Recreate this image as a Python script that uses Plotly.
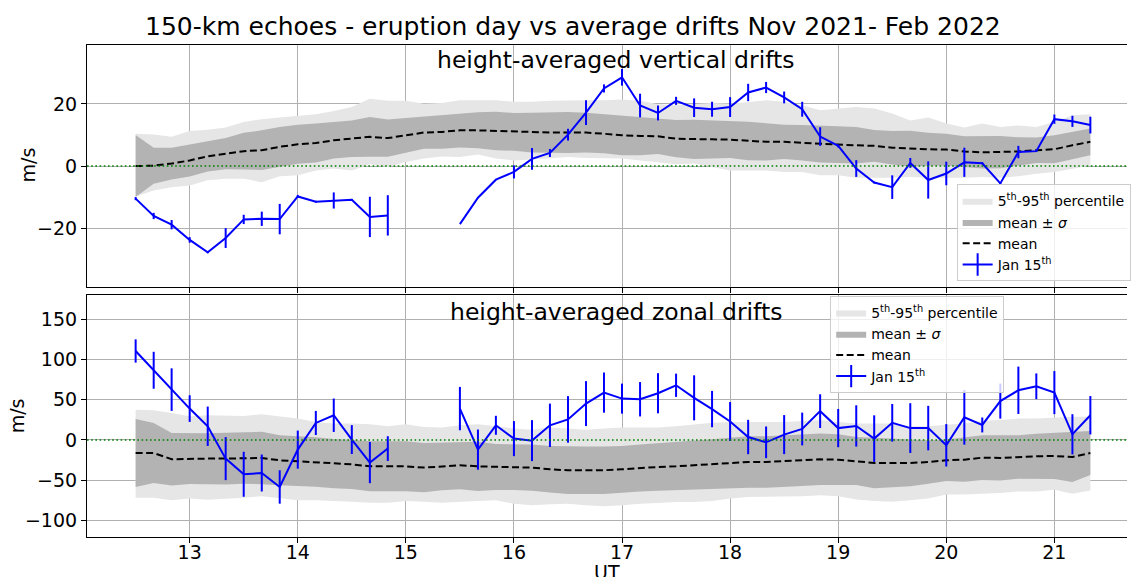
import plotly.graph_objects as go

# ---------------- data ----------------
ut = [12.5, 12.667, 12.833, 13.0, 13.167, 13.333, 13.5, 13.667, 13.833, 14.0,
      14.167, 14.333, 14.5, 14.667, 14.833, 15.0, 15.167, 15.333, 15.5, 15.667,
      15.833, 16.0, 16.167, 16.333, 16.5, 16.667, 16.833, 17.0, 17.167, 17.333,
      17.5, 17.667, 17.833, 18.0, 18.167, 18.333, 18.5, 18.667, 18.833, 19.0,
      19.167, 19.333, 19.5, 19.667, 19.833, 20.0, 20.167, 20.333, 20.5, 20.667,
      20.833, 21.0, 21.167, 21.333]

# vertical drifts (top panel)
vert_jan15 = [-10.5, -16.1, -18.9, -23.8, -27.8, -23.2, -17.2, -17.0, -17.1, -9.8,
              -11.5, -11.1, -10.9, -16.4, -15.9, None, None, None, -18.7, -10.2,
              -4.4, -1.9, 2.3, 4.2, 10.1, 17.2, 25.0, 28.6, 19.5, 17.1,
              21.0, 18.8, 18.3, 19.0, 23.7, 25.3, 22.1, 18.3, 9.5, 6.5,
              -0.8, -5.3, -6.8, 1.0, -4.5, -2.4, 1.2, 0.9, -5.6, 4.5,
              4.8, 15.1, 14.4, 13.2]
vert_err = [0.5, 1.0, 1.5, 0.9, 0.3, 3.2, 1.5, 2.3, 4.9, 0.5,
            0.3, 2.6, 0.3, 6.5, 6.5, 0, 0, 0, 0, 0,
            0, 2.1, 3.5, 1.3, 1.9, 4.0, 1.3, 2.7, 3.8, 2.4,
            1.3, 3.0, 2.4, 3.2, 2.8, 1.8, 1.9, 2.4, 3.0, 0.5,
            2.7, 0.3, 3.8, 1.6, 6.0, 3.8, 4.7, 0.3, 0.3, 2.0,
            0.3, 1.5, 1.8, 2.7]
vert_mean = [0.0, 0.1, 0.8, 1.8, 3.1, 4.0, 4.8, 5.1, 6.2, 7.0,
             7.4, 8.3, 8.8, 9.4, 9.0, 9.9, 10.8, 11.0, 11.5, 11.5,
             11.3, 11.0, 10.8, 10.8, 10.8, 10.8, 10.4, 9.9, 9.7, 9.6,
             8.8, 8.6, 8.6, 8.5, 8.1, 7.8, 7.8, 7.5, 7.0, 6.9,
             6.7, 6.5, 5.9, 5.6, 5.4, 5.3, 4.7, 4.4, 4.5, 4.7,
             5.1, 5.4, 6.7, 7.8]
vert_std = [10.0, 5.8, 5.1, 5.2, 4.9, 5.0, 5.9, 6.4, 6.4, 6.3,
            6.3, 5.9, 5.9, 6.4, 6.0, 5.6, 5.2, 5.4, 5.5, 5.8,
            6.2, 6.1, 6.4, 6.6, 6.6, 6.4, 6.3, 6.4, 6.2, 5.7,
            6.0, 6.3, 6.1, 5.9, 6.2, 6.0, 5.5, 5.7, 5.9, 5.9,
            5.9, 5.1, 5.4, 5.8, 5.3, 5.1, 4.9, 5.2, 5.2, 4.6,
            4.1, 4.5, 4.4, 4.3]
vert_p95 = [10.4, 10.2, 9.4, 11.3, 11.7, 12.4, 14.2, 15.1, 15.6, 16.1,
            16.7, 17.7, 19.0, 21.7, 21.0, 21.0, 20.1, 20.3, 21.2, 21.2,
            21.2, 20.7, 20.7, 21.0, 21.2, 21.2, 21.2, 21.4, 21.0, 19.9,
            19.6, 19.9, 20.3, 20.1, 20.7, 21.2, 20.7, 19.6, 18.0, 18.5,
            19.0, 18.5, 16.9, 14.7, 15.6, 13.7, 12.4, 13.7, 12.6, 13.1,
            12.6, 14.2, 16.4, 16.7]
vert_p5 = [-9.8, -7.9, -6.8, -6.3, -4.6, -4.1, -4.1, -5.2, -3.3, -3.0,
           -1.4, -0.8, -1.4, 0.6, -0.3, 1.3, 2.4, 3.1, 2.9, 3.7,
           2.4, 1.8, 2.1, 2.4, 2.9, 2.6, 2.4, 2.4, 1.8, 1.3,
           0.6, 0.8, -0.3, -1.4, -1.4, -1.4, -1.9, -1.9, -3.0, -3.0,
           -3.8, -3.8, -3.8, -3.5, -3.8, -3.8, -3.8, -3.5, -3.8, -3.3,
           -2.5, -1.9, -0.9, 0.2]

# zonal drifts (bottom panel)
zon_jan15 = [110.8, 86.8, 62.7, 39.1, 17.1, -23.2, -42.7, -41.1, -58.5, -12.0,
             21.2, 30.8, 0.5, -28.1, -10.7, None, None, None, 39.1, -12.0,
             18.3, 1.7, -0.8, 18.3, 25.6, 45.3, 59.0, 51.5, 50.7, 58.2,
             68.1, 52.5, 38.5, 23.0, 3.7, -2.9, 6.7, 13.7, 35.9, 14.8,
             17.5, 1.7, 21.4, 14.8, 14.8, -6.6, 28.2, 18.7, 48.4, 61.9,
             66.9, 59.0, 7.1, 30.8]
zon_err = [14.5, 23.0, 26.5, 16.6, 24.5, 26.8, 28.0, 23.0, 20.8, 23.7,
           15.0, 20.8, 18.0, 25.7, 15.4, 0, 0, 0, 27.0, 25.0,
           11.8, 21.8, 25.5, 27.0, 29.0, 28.0, 25.0, 18.7, 21.4, 25.0,
           14.5, 28.0, 22.6, 24.3, 21.4, 19.7, 24.3, 20.4, 21.0, 23.8,
           25.7, 29.0, 23.4, 31.0, 27.7, 26.4, 34.0, 9.3, 21.8, 29.5,
           16.0, 26.8, 25.0, 23.9]
zon_mean = [-16.2, -16.2, -24.0, -23.2, -23.2, -23.2, -22.4, -22.4, -25.3, -26.5,
            -27.4, -29.4, -30.3, -32.8, -32.8, -32.8, -34.4, -32.8, -31.5, -32.8,
            -33.6, -33.6, -34.4, -36.5, -37.7, -37.7, -37.7, -36.5, -34.8, -33.6,
            -32.8, -31.5, -30.3, -28.6, -27.4, -27.4, -26.2, -25.3, -24.1, -24.5,
            -26.2, -28.6, -28.6, -28.6, -27.4, -25.3, -24.5, -22.0, -22.4, -21.2,
            -20.3, -19.9, -21.2, -16.2]
zon_std = [42.4, 37.4, 32.6, 31.6, 31.6, 32.2, 32.2, 32.6, 31.1, 31.2,
           30.7, 30.6, 30.6, 31.1, 31.1, 31.1, 30.7, 29.7, 29.7, 30.7,
           28.6, 28.7, 28.8, 29.0, 29.5, 29.7, 29.5, 29.0, 29.3, 29.7,
           29.8, 30.5, 31.3, 31.5, 32.1, 32.1, 32.3, 32.1, 32.1, 31.5,
           30.0, 31.5, 30.3, 29.1, 27.0, 25.8, 27.4, 27.8, 28.2, 27.0,
           28.2, 28.7, 31.0, 27.4]
zon_p95 = [37.8, 37.0, 33.7, 29.5, 30.8, 30.8, 29.9, 32.0, 29.5, 26.6,
           22.5, 20.4, 20.4, 19.5, 17.0, 19.5, 16.2, 15.4, 18.3, 19.5,
           17.0, 14.2, 12.9, 15.4, 14.2, 12.9, 14.2, 15.4, 15.4, 15.4,
           17.0, 19.5, 21.6, 22.5, 22.5, 22.5, 22.5, 23.7, 24.6, 22.5,
           20.4, 20.4, 20.4, 17.0, 17.0, 19.1, 20.4, 23.7, 25.4, 26.6,
           26.6, 27.9, 28.8, 28.8]
zon_p5 = [-71.8, -71.8, -75.1, -73.0, -74.3, -73.0, -71.8, -70.1, -73.0, -75.1,
          -75.1, -76.0, -77.0, -78.0, -78.0, -76.0, -77.0, -78.0, -77.0, -76.0,
          -75.1, -79.3, -81.3, -80.1, -79.3, -81.3, -82.6, -81.3, -79.3, -78.4,
          -77.2, -77.2, -75.9, -73.0, -70.9, -70.1, -70.1, -70.1, -68.8, -70.1,
          -74.0, -76.0, -77.0, -75.0, -73.0, -68.0, -68.0, -67.0, -66.0, -64.0,
          -64.0, -62.0, -67.0, -63.0]

x_ticks = [13, 14, 15, 16, 17, 18, 19, 20, 21]
vert_ticks = [-20, 0, 20]
vert_ticktext = ["\u221220", "0", "20"]
zon_ticks = [-100, -50, 0, 50, 100, 150]
zon_ticktext = ["\u2212100", "\u221250", "0", "50", "100", "150"]

# ---------------- styling ----------------
FONT = "DejaVu Sans"
LIGHT = "#e6e6e6"
DARK = "#b3b3b3"
BLUE = "#0000ff"
GRID = "#b0b0b0"

fig = go.Figure()


def add_panel(xa, ya, leg, p5, p95, mean, std, obs, err):
    lo = [m - s for m, s in zip(mean, std)]
    hi = [m + s for m, s in zip(mean, std)]
    fig.add_trace(go.Scatter(
        x=ut + ut[::-1], y=p95 + p5[::-1], fill="toself", fillcolor=LIGHT,
        mode="lines", line=dict(width=0, color=LIGHT), hoverinfo="skip",
        name="5<sup>th</sup>-95<sup>th</sup> percentile",
        xaxis=xa, yaxis=ya, legend=leg))
    fig.add_trace(go.Scatter(
        x=ut + ut[::-1], y=hi + lo[::-1], fill="toself", fillcolor=DARK,
        mode="lines", line=dict(width=0, color=DARK), hoverinfo="skip",
        name="mean \u00b1 <i>\u03c3</i>",
        xaxis=xa, yaxis=ya, legend=leg))
    fig.add_trace(go.Scatter(
        x=ut, y=mean, mode="lines",
        line=dict(color="black", width=2, dash="7px,3.5px"),
        name="mean", xaxis=xa, yaxis=ya, legend=leg))
    fig.add_trace(go.Scatter(
        x=ut, y=obs, mode="lines", line=dict(color=BLUE, width=2),
        error_y=dict(type="data", array=err, visible=True, color=BLUE,
                     thickness=2, width=0),
        showlegend=False, name="Jan 15th",
        xaxis=xa, yaxis=ya))
    # legend-only entry with vertical bar marker (errorbar look)
    fig.add_trace(go.Scatter(
        x=[None], y=[None], mode="lines+markers",
        line=dict(color=BLUE, width=2),
        marker=dict(symbol="line-ns", size=16,
                    line=dict(color=BLUE, width=2)),
        name="Jan 15<sup>th</sup>", xaxis=xa, yaxis=ya, legend=leg))


add_panel("x2", "y2", "legend", vert_p5, vert_p95, vert_mean, vert_std,
          vert_jan15, vert_err)
add_panel("x", "y", "legend2", zon_p5, zon_p95, zon_mean, zon_std,
          zon_jan15, zon_err)

# green dotted zero lines
for yref in ["y", "y2"]:
    fig.add_shape(type="line", xref="x domain", yref=yref, x0=0, x1=1,
                  y0=0, y1=0, layer="above",
                  line=dict(color="#008000", width=1.6, dash="1.6px,2.6px"))

axis_common = dict(showgrid=True, gridcolor=GRID, gridwidth=1,
                   showline=True, linecolor="black", linewidth=1.2,
                   ticks="outside", ticklen=5, tickwidth=1,
                   tickcolor="black", zeroline=False, automargin=False,
                   tickfont=dict(family=FONT, size=19, color="black"))

x_range = [12.05, 21.672]

fig.update_layout(
    width=1131, height=577,
    margin=dict(l=87, r=0, t=45, b=40),
    paper_bgcolor="white", plot_bgcolor="white",
    font=dict(family=FONT, color="black"),
    template="none",
    xaxis=dict(domain=[0, 1], anchor="y", range=x_range, mirror=True,
               tickvals=x_ticks, ticklabelstandoff=-7, **axis_common),
    xaxis2=dict(domain=[0, 1], anchor="y2", range=x_range, matches="x",
                mirror=True, tickvals=x_ticks, showticklabels=False,
                **axis_common),
    yaxis=dict(domain=[0, 0.492], anchor="x", range=[-120.8, 180.6],
               mirror=False, tickvals=zon_ticks, ticktext=zon_ticktext,
               **axis_common),
    yaxis2=dict(domain=[0.508, 1], anchor="x2", range=[-39, 39],
                mirror=False, tickvals=vert_ticks, ticktext=vert_ticktext,
                **axis_common),
    legend=dict(x=0.8362, y=0.717, xanchor="left", yanchor="top",
                bgcolor="rgba(255,255,255,0.8)", bordercolor="#cccccc",
                borderwidth=1, font=dict(family=FONT, size=14),
                tracegroupgap=0),
    legend2=dict(x=0.7146, y=0.490, xanchor="left", yanchor="top",
                 bgcolor="rgba(255,255,255,0.8)", bordercolor="#cccccc",
                 borderwidth=1, font=dict(family=FONT, size=14),
                 tracegroupgap=0),
    showlegend=True,
)

annotations = [
    dict(text="150-km echoes - eruption day vs average drifts Nov 2021- Feb 2022",
         x=0.4674, y=1.0366, xref="paper", yref="paper", showarrow=False,
         font=dict(family=FONT, size=25), xanchor="center", yanchor="middle"),
    dict(text="height-averaged vertical drifts", x=0.509, y=0.9695,
         xref="paper", yref="paper", showarrow=False,
         font=dict(family=FONT, size=23.5), xanchor="center", yanchor="middle"),
    dict(text="height-averaged zonal drifts", x=0.509, y=0.458,
         xref="paper", yref="paper", showarrow=False,
         font=dict(family=FONT, size=23.5), xanchor="center", yanchor="middle"),
    dict(text="m/s", textangle=-90, x=-0.0565, y=0.7556, xref="paper",
         yref="paper", showarrow=False, font=dict(family=FONT, size=19),
         xanchor="center", yanchor="middle"),
    dict(text="m/s", textangle=-90, x=-0.067, y=0.246, xref="paper",
         yref="paper", showarrow=False, font=dict(family=FONT, size=19),
         xanchor="center", yanchor="middle"),
    dict(text="UT", x=0.5, y=-0.071, xref="paper", yref="paper",
         showarrow=False, font=dict(family=FONT, size=19),
         xanchor="center", yanchor="middle"),
]
fig.update_layout(annotations=annotations)

fig.write_html("out.html",
               config={"displayModeBar": False},
               post_script="document.body.style.margin='0';"
                           "document.body.style.padding='0';")
